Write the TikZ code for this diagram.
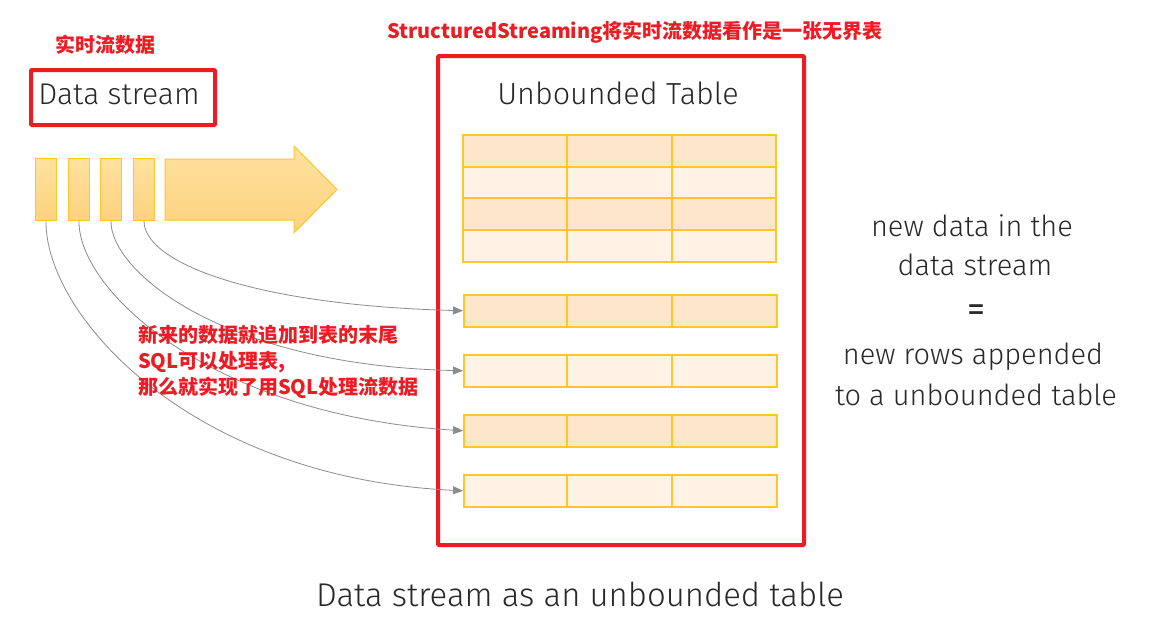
\documentclass[tikz,border=0pt]{standalone}
\usepackage{fontspec}
\setmainfont{Fira Sans}[UprightFont=* Light]
\newfontfamily\firareg{Fira Sans}
\newfontfamily\cjk{Noto Sans CJK SC}
\usetikzlibrary{arrows.meta}
\definecolor{redbox}{RGB}{237,28,36}
\definecolor{txt}{RGB}{40,40,40}
\definecolor{gold}{RGB}{255,198,40}
\definecolor{rowdark}{RGB}{253,230,201}
\definecolor{rowlight}{RGB}{254,243,228}
\definecolor{blocktop}{RGB}{255,226,160}
\definecolor{blockbot}{RGB}{252,210,125}
\definecolor{link}{RGB}{140,140,140}
\tikzset{
  redframe/.style={draw=redbox, line width=4pt, rounded corners=1pt},
  bigtxt/.style={text=txt, font=\fontsize{29}{34}\selectfont},
  notetxt/.style={text=redbox, font=\cjk\bfseries\fontsize{20}{26}\selectfont},
  block/.style={draw=gold, line width=1pt, top color=blocktop, bottom color=blockbot, minimum width=21pt, minimum height=62pt, inner sep=0pt, anchor=north west},
  tblrow/.style={draw=gold, line width=1.5pt, minimum width=313pt, minimum height=32pt, inner sep=0pt, anchor=north west},
  feed/.style={draw=link, line width=0.8pt, -{Triangle[length=10pt,width=8pt]}},
}
\begin{document}
\begin{tikzpicture}[x=1pt,y=-1pt]
\useasboundingbox[fill=white] (0,0) rectangle (1173,638);

% labels in red
\node[notetxt, font=\cjk\bfseries\fontsize{20}{20}\selectfont] (lab1) at (105,45) {实时流数据};
\node[notetxt, font=\cjk\bfseries\fontsize{20}{20}\selectfont] (title) at (635,32) {StructuredStreaming将实时流数据看作是一张无界表};

% data stream box
\node[redframe, minimum width=184pt, minimum height=55pt, anchor=north west] (dsbox) at (29,68) {};
\node[bigtxt, font=\fontsize{30}{34}\selectfont] (dstxt) at (119,94) {Data stream};

% blocks
\node[block] (b1) at (35,158) {};
\node[block] (b2) at (68,158) {};
\node[block] (b3) at (100,158) {};
\node[block] (b4) at (133,158) {};

% big arrow
\draw[draw=gold, line width=1pt, top color=blocktop, bottom color=blockbot]
  (165,159) -- (294,159) -- (294,146) -- (337,189.5) -- (294,233) -- (294,220) -- (165,220) -- cycle;

% unbounded table frame
\node[redframe, minimum width=366pt, minimum height=489pt, anchor=north west] (tbox) at (436,54) {};
\node[bigtxt, font=\fontsize{30.5}{34}\selectfont] (ttitle) at (618,93) {Unbounded Table};

% existing table
\fill[rowdark] (463,135) rectangle (776,167);
\fill[rowlight] (463,167) rectangle (776,198);
\fill[rowdark] (463,198) rectangle (776,230);
\fill[rowlight] (463,230) rectangle (776,262);
\draw[gold, line width=1.5pt] (463,135) rectangle (776,262);
\foreach \yy in {167,198,230} \draw[gold, line width=1.5pt] (463,\yy) -- (776,\yy);
\foreach \xx in {567,672} \draw[gold, line width=1.5pt] (\xx,135) -- (\xx,262);

% appended rows
\node[tblrow, fill=rowdark] (rA) at (463,294) {};
\node[tblrow, fill=rowlight] (rB) at (463,354) {};
\node[tblrow, fill=rowdark] (rC) at (463,414) {};
\node[tblrow, fill=rowlight] (rD) at (463,474) {};
\foreach \r in {rA,rB,rC,rD}{
  \foreach \dx in {104,209}
    \draw[gold, line width=1.5pt] ([xshift=\dx pt]\r.north west) -- ([xshift=\dx pt]\r.south west);
}

% feeding curves
\draw[feed] (b4.south) .. controls (144,262) and (250,305) .. (rA.west);
\draw[feed] (b3.south) .. controls (110,270) and (220,365) .. (rB.west);
\draw[feed] (b2.south) .. controls (78,290) and (210,415) .. (rC.west);
\draw[feed] (b1.south) .. controls (45,315) and (190,478) .. (rD.west);

% note
\node[notetxt, align=left, anchor=west, inner sep=0pt] (note) at (138,362) {新来的数据就追加到表的末尾\\SQL可以处理表,\\那么就实现了用SQL处理流数据};

% right text
\node[bigtxt] (n1) at (972,226) {new data in the};
\node[bigtxt] (n2) at (975,265) {data stream};
\node[text=txt, font=\firareg\fontsize{36}{36}\selectfont] (eq) at (976,313) {=};
\node[bigtxt] (n3) at (973,357) {new rows appended};
\node[bigtxt] (n4) at (976,395) {to a unbounded table};

% caption
\node[text=txt, font=\fontsize{32.9}{36}\selectfont] (cap) at (580,594) {Data stream as an unbounded table};
\end{tikzpicture}
\end{document}
